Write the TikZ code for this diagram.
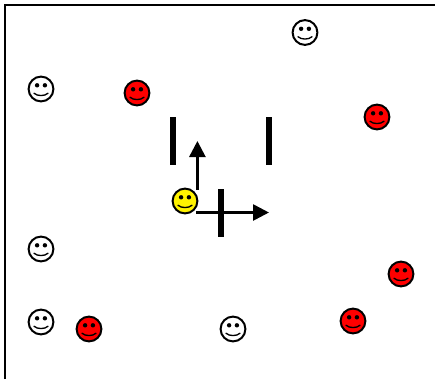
\documentclass[tikz,border=0pt]{standalone}
\usetikzlibrary{arrows.meta}
\tikzset{
  x=0.75pt,y=-0.75pt,
  facebody/.style={circle,draw=black,line width=1.5pt,minimum size=18.6pt,inner sep=0pt,outer sep=0pt},
  wall/.style={draw=black,line width=4.5pt,line cap=butt},
  frameline/.style={draw=black,line width=1.7pt},
  mover/.style={draw=black,line width=2pt,-{Triangle[length=12pt,width=12pt]},shorten <=0pt},
  pics/smiley/.style={code={
    \node[facebody,fill=#1] (-b) at (0,0) {};
    \fill[black] (-3.9,-3.7) circle[radius=2.2];
    \fill[black] (3.9,-3.7) circle[radius=2.2];
    \draw[black,line width=1pt,line cap=round] (-7,4.3) .. controls (-3.5,7.3) and (3.5,7.3) .. (7,4.3);
  }}
}
\begin{document}
\begin{tikzpicture}
\useasboundingbox (0,0) rectangle (435,379);
\fill[white] (0,0) rectangle (435,379);
\coordinate (fa) at (5,379);
\coordinate (fb) at (5,5);
\coordinate (fc) at (435,5);
\draw[frameline] (fa) -- (fb) -- (fc);
\coordinate (w1a) at (173,117); \coordinate (w1b) at (173,164.5);
\coordinate (w2a) at (269.3,117); \coordinate (w2b) at (269.3,164.5);
\coordinate (w3a) at (221,189); \coordinate (w3b) at (221,236.5);
\draw[wall] (w1a) -- (w1b);
\draw[wall] (w2a) -- (w2b);
\draw[wall] (w3a) -- (w3b);
\coordinate (upS) at (197.4,190); \coordinate (upE) at (197.4,141);
\coordinate (rtS) at (196,212.5); \coordinate (rtE) at (269,212.5);
\draw[mover] (upS) -- (upE);
\draw[mover] (rtS) -- (rtE);
\pic (w1) at (305,32.5) {smiley=white};
\pic (w2) at (41,89) {smiley=white};
\pic (w3) at (41,249) {smiley=white};
\pic (w4) at (41,322) {smiley=white};
\pic (w5) at (233,329) {smiley=white};
\pic (r1) at (137,93) {smiley=red};
\pic (r2) at (377,117) {smiley=red};
\pic (r3) at (401,274) {smiley=red};
\pic (r4) at (353,321) {smiley=red};
\pic (r5) at (89,329) {smiley=red};
\pic (y1) at (185,201) {smiley=yellow};
\end{tikzpicture}
\end{document}
